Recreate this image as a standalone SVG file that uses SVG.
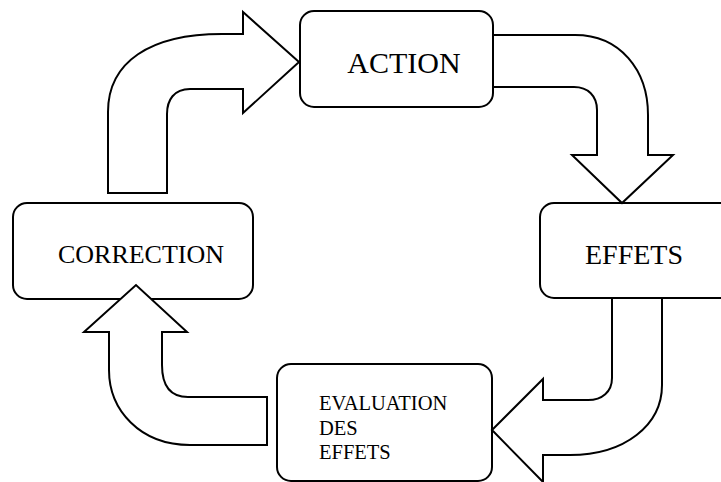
<svg xmlns="http://www.w3.org/2000/svg" width="721" height="482" viewBox="0 0 721 482">
<style>
.box{fill:#fff;stroke:#000;stroke-width:2}
.arr{fill:#fff;stroke:#000;stroke-width:2;stroke-linejoin:miter}
text{font-family:"Liberation Serif","Times New Roman",serif;fill:#000}
</style>
<rect width="721" height="482" fill="#fff"/>
<g id="action"><rect class="box" x="300" y="11" width="193" height="96" rx="14"/><text x="404" y="73" font-size="30" text-anchor="middle">ACTION</text></g>
<g id="effets"><rect class="box" x="540" y="203" width="200" height="95" rx="14"/><text x="634" y="264" font-size="28" text-anchor="middle">EFFETS</text></g>
<g id="evaluation"><rect class="box" x="277" y="364" width="215" height="117" rx="14"/><text font-size="20.5"><tspan x="319" y="410">EVALUATION</tspan><tspan x="319" y="435">DES</tspan><tspan x="319" y="459">EFFETS</tspan></text></g>
<g id="correction"><rect class="box" x="13" y="203" width="240" height="96" rx="14"/><text x="141" y="263" font-size="26" text-anchor="middle">CORRECTION</text></g>
<g id="connectors">
<path class="arr" d="M108,193 L108,112 C108,62 150,34 222,34 L243,34 L243,12 L299,62 L243,113 L243,89 L190,89 C174,89 167,100 167,114 L167,193 Z"/>
<path class="arr" d="M493,35 L575,35 C620,35 648,70 648,115 L648,155 L673,155 L622,203 L572,155 L597,155 L597,110 C597,96 588,87 574,87 L493,87 Z"/>
<path class="arr" d="M612,298 L612,378 C612,392 602,400 588,400 L543,400 L543,379 L492,430 L543,482 L543,455 L570,455 C625,455 662,425 662,385 L662,298 Z"/>
<path class="arr" d="M267,445 L190,445 C140,445 109,410 109,370 L109,332 L84,332 L136,285 L187,332 L162,332 L162,365 C162,385 170,397 188,397 L267,397 Z"/>
</g>
</svg>
